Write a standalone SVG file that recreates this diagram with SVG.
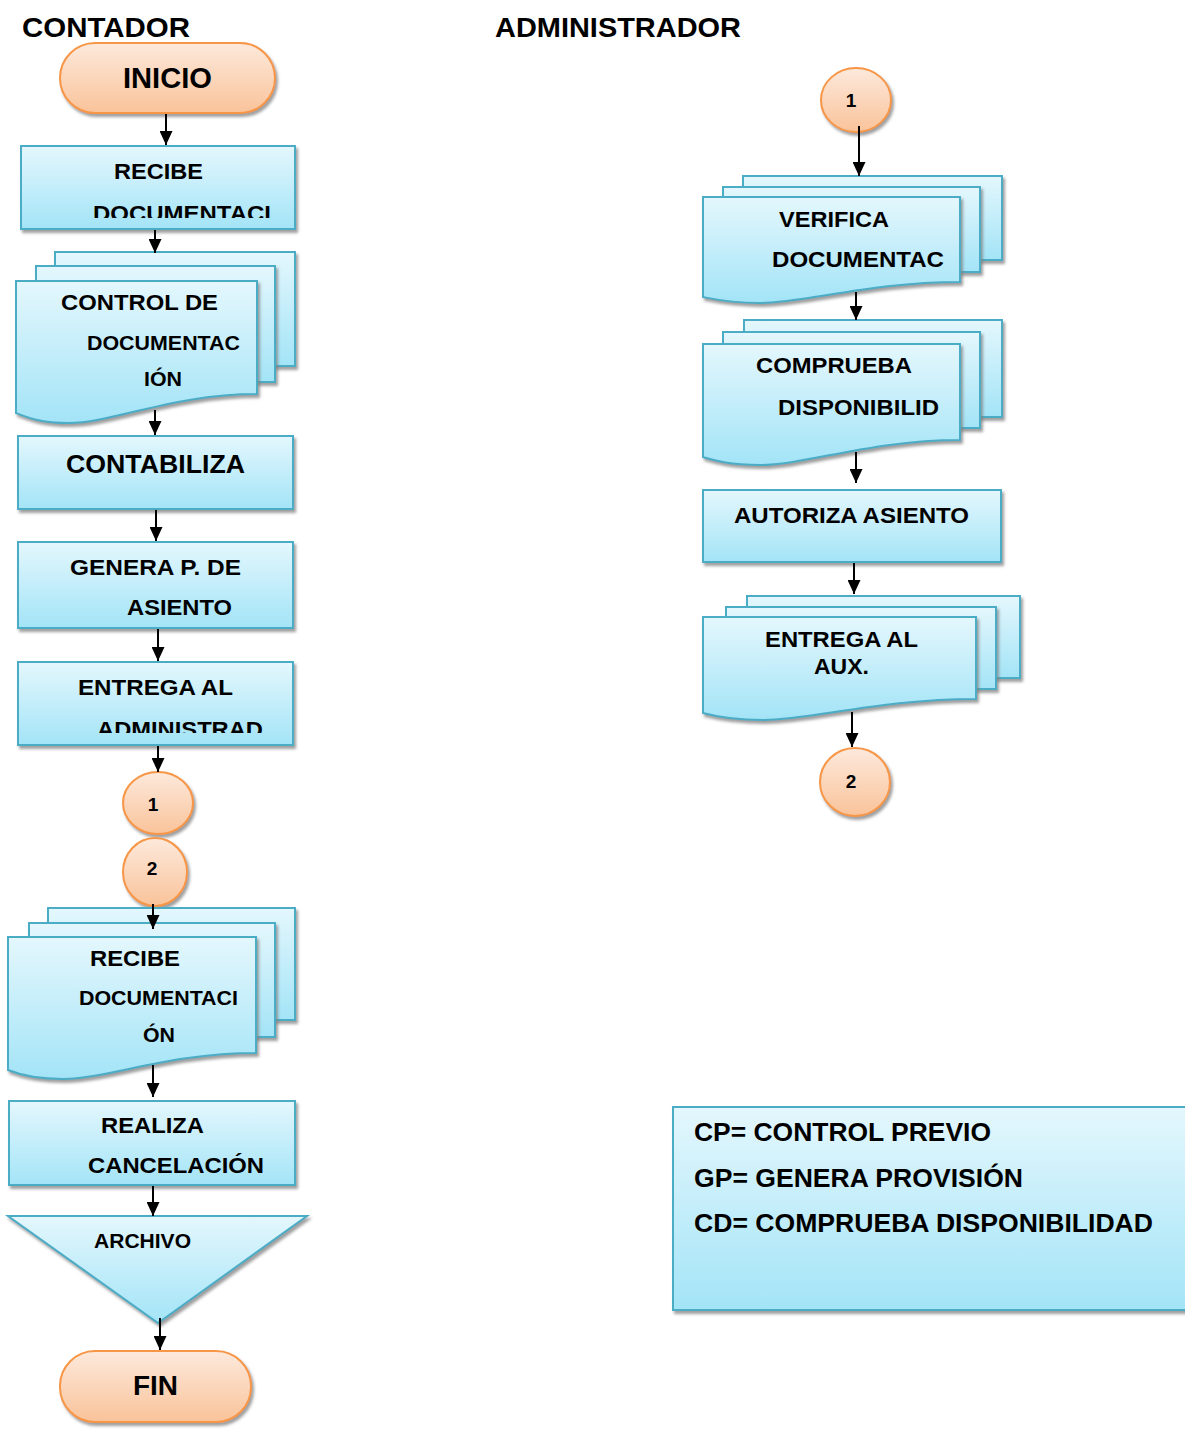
<svg xmlns="http://www.w3.org/2000/svg" width="1185" height="1432" viewBox="0 0 1185 1432">
<defs>
<style>
.t{font-family:"Liberation Sans",Arial,sans-serif;font-weight:bold;fill:#000}
.box{fill:url(#gb);stroke:#4bacc6;stroke-width:2;filter:url(#sh)}
.term{fill:url(#go);stroke:#f79646;stroke-width:2;filter:url(#sh)}
.con{stroke:#000;stroke-width:2;fill:none;marker-end:url(#ah)}
</style>
<linearGradient id="gb" x1="0" y1="0" x2="0" y2="1"><stop offset="0" stop-color="#e4f7fd"/><stop offset="1" stop-color="#a3e4f7"/></linearGradient>
<linearGradient id="go" x1="0" y1="0" x2="0" y2="1"><stop offset="0" stop-color="#fde9dc"/><stop offset="1" stop-color="#f9c39a"/></linearGradient>
<filter id="sh" x="-10%" y="-10%" width="125%" height="130%"><feDropShadow dx="2" dy="3" stdDeviation="1.5" flood-color="#7f7f7f" flood-opacity="0.75"/></filter>
<marker id="ah" markerWidth="14" markerHeight="13" refX="14" refY="6.5" orient="auto" markerUnits="userSpaceOnUse"><path d="M0,0 L14,6.5 L0,13 Z" fill="#000"/></marker>
<clipPath id="c1"><rect x="21" y="146" width="274" height="72"/></clipPath>
<clipPath id="c2"><rect x="18" y="662" width="275" height="71"/></clipPath>
</defs>
<rect width="1185" height="1432" fill="#fff"/>

<text class="t" x="22" y="37" font-size="28" textLength="168" lengthAdjust="spacingAndGlyphs">CONTADOR</text>
<text class="t" x="495" y="37" font-size="28" textLength="246" lengthAdjust="spacingAndGlyphs">ADMINISTRADOR</text>

<g id="inicio">
<rect class="term" x="60" y="43" width="215" height="70" rx="35"/>
<text class="t" x="123" y="88" font-size="29" textLength="89" lengthAdjust="spacingAndGlyphs">INICIO</text>
</g>

<g id="recibe1">
<rect class="box" x="21" y="146" width="274" height="83"/>
<text class="t" x="114" y="179" font-size="22" textLength="89" lengthAdjust="spacingAndGlyphs">RECIBE</text>
<text class="t" x="93" y="221" font-size="22" textLength="178" lengthAdjust="spacingAndGlyphs" clip-path="url(#c1)">DOCUMENTACI</text>
</g>

<g id="control">
<rect class="box" x="55" y="252" width="240" height="114"/>
<rect class="box" x="36" y="266" width="239" height="116"/>
<path class="box" d="M16,281 H257 V394 C173,394 112,423 69,423 C40,423 26,417 16,413 Z"/>
<text class="t" x="61" y="310" font-size="22" textLength="157" lengthAdjust="spacingAndGlyphs">CONTROL DE</text>
<text class="t" x="87" y="350" font-size="20" textLength="153" lengthAdjust="spacingAndGlyphs">DOCUMENTAC</text>
<text class="t" x="144" y="386" font-size="20" textLength="38" lengthAdjust="spacingAndGlyphs">IÓN</text>
</g>

<g id="contabiliza">
<rect class="box" x="18" y="436" width="275" height="73"/>
<text class="t" x="66" y="473" font-size="25" textLength="179" lengthAdjust="spacingAndGlyphs">CONTABILIZA</text>
</g>

<g id="genera">
<rect class="box" x="18" y="542" width="275" height="86"/>
<text class="t" x="70" y="575" font-size="22" textLength="171" lengthAdjust="spacingAndGlyphs">GENERA P. DE</text>
<text class="t" x="127" y="615" font-size="22" textLength="105" lengthAdjust="spacingAndGlyphs">ASIENTO</text>
</g>

<g id="entrega1">
<rect class="box" x="18" y="662" width="275" height="83"/>
<text class="t" x="78" y="695" font-size="22" textLength="155" lengthAdjust="spacingAndGlyphs">ENTREGA AL</text>
<text class="t" x="97" y="737" font-size="22" textLength="166" lengthAdjust="spacingAndGlyphs" clip-path="url(#c2)">ADMINISTRAD</text>
</g>

<g id="c1left">
<ellipse class="term" cx="158" cy="803" rx="35" ry="31"/>
<text class="t" x="153" y="811" font-size="19" text-anchor="middle">1</text>
</g>

<g id="c2left">
<ellipse class="term" cx="155" cy="872" rx="32" ry="34"/>
<text class="t" x="152" y="875" font-size="19" text-anchor="middle">2</text>
</g>

<g id="recibe2">
<rect class="box" x="48" y="908" width="247" height="112"/>
<rect class="box" x="29" y="923" width="246" height="114"/>
<path class="box" d="M8,937 H256 V1053 C169,1053 107,1079 63,1079 C33,1079 18,1074 8,1070 Z"/>
<text class="t" x="90" y="966" font-size="22" textLength="90" lengthAdjust="spacingAndGlyphs">RECIBE</text>
<text class="t" x="79" y="1005" font-size="21" textLength="159" lengthAdjust="spacingAndGlyphs">DOCUMENTACI</text>
<text class="t" x="143" y="1042" font-size="21" textLength="32" lengthAdjust="spacingAndGlyphs">ÓN</text>
</g>

<g id="realiza">
<rect class="box" x="9" y="1101" width="286" height="84"/>
<text class="t" x="101" y="1133" font-size="22" textLength="103" lengthAdjust="spacingAndGlyphs">REALIZA</text>
<text class="t" x="88" y="1173" font-size="22" textLength="176" lengthAdjust="spacingAndGlyphs">CANCELACIÓN</text>
</g>

<g id="archivo">
<path class="box" d="M8,1216 H307 L158,1323 Z"/>
<text class="t" x="94" y="1248" font-size="20" textLength="97" lengthAdjust="spacingAndGlyphs">ARCHIVO</text>
</g>

<g id="fin">
<rect class="term" x="60" y="1351" width="191" height="71" rx="35"/>
<text class="t" x="133" y="1395" font-size="28" textLength="45" lengthAdjust="spacingAndGlyphs">FIN</text>
</g>

<g id="c1right">
<ellipse class="term" cx="856" cy="100" rx="35" ry="32"/>
<text class="t" x="851" y="107" font-size="19" text-anchor="middle">1</text>
</g>

<g id="verifica">
<rect class="box" x="743" y="176" width="259" height="84"/>
<rect class="box" x="723" y="187" width="257" height="85"/>
<path class="box" d="M703,197 H960 V282 C870,282 806,303 760,303 C729,303 713,299 703,297 Z"/>
<text class="t" x="779" y="227" font-size="22" textLength="110" lengthAdjust="spacingAndGlyphs">VERIFICA</text>
<text class="t" x="772" y="267" font-size="22" textLength="172" lengthAdjust="spacingAndGlyphs">DOCUMENTAC</text>
</g>

<g id="comprueba">
<rect class="box" x="744" y="320" width="258" height="97"/>
<rect class="box" x="723" y="332" width="257" height="96"/>
<path class="box" d="M703,344 H960 V440 C870,440 806,465 760,465 C729,465 713,460 703,457 Z"/>
<text class="t" x="756" y="373" font-size="22" textLength="156" lengthAdjust="spacingAndGlyphs">COMPRUEBA</text>
<text class="t" x="778" y="415" font-size="22" textLength="161" lengthAdjust="spacingAndGlyphs">DISPONIBILID</text>
</g>

<g id="autoriza">
<rect class="box" x="703" y="490" width="298" height="72"/>
<text class="t" x="734" y="523" font-size="22" textLength="235" lengthAdjust="spacingAndGlyphs">AUTORIZA ASIENTO</text>
</g>

<g id="entrega2">
<rect class="box" x="747" y="596" width="273" height="82"/>
<rect class="box" x="726" y="607" width="270" height="82"/>
<path class="box" d="M703,617 H976 V699 C880,699 812,720 763,720 C730,720 714,716 703,713 Z"/>
<text class="t" x="765" y="647" font-size="22" textLength="153" lengthAdjust="spacingAndGlyphs">ENTREGA AL</text>
<text class="t" x="814" y="674" font-size="22" textLength="55" lengthAdjust="spacingAndGlyphs">AUX.</text>
</g>

<g id="c2right">
<ellipse class="term" cx="855" cy="782" rx="35" ry="34"/>
<text class="t" x="851" y="788" font-size="19" text-anchor="middle">2</text>
</g>

<g id="legend">
<rect class="box" x="673" y="1107" width="520" height="203"/>
<text class="t" x="694" y="1141" font-size="25" textLength="297" lengthAdjust="spacingAndGlyphs">CP= CONTROL PREVIO</text>
<text class="t" x="694" y="1187" font-size="25" textLength="329" lengthAdjust="spacingAndGlyphs">GP= GENERA PROVISIÓN</text>
<text class="t" x="694" y="1232" font-size="25" textLength="459" lengthAdjust="spacingAndGlyphs">CD= COMPRUEBA DISPONIBILIDAD</text>
</g>

<g id="connectors">
<line class="con" x1="166" y1="114" x2="166" y2="145"/>
<line class="con" x1="155" y1="230" x2="155" y2="253"/>
<line class="con" x1="155" y1="410" x2="155" y2="435"/>
<line class="con" x1="156" y1="510" x2="156" y2="541"/>
<line class="con" x1="158" y1="629" x2="158" y2="661"/>
<line class="con" x1="158" y1="746" x2="158" y2="772"/>
<line class="con" x1="153" y1="904" x2="153" y2="929"/>
<line class="con" x1="153" y1="1065" x2="153" y2="1097"/>
<line class="con" x1="153" y1="1186" x2="153" y2="1216"/>
<line class="con" x1="160" y1="1318" x2="160" y2="1350"/>
<line class="con" x1="859" y1="126" x2="859" y2="176"/>
<line class="con" x1="856" y1="292" x2="856" y2="320"/>
<line class="con" x1="856" y1="452" x2="856" y2="483"/>
<line class="con" x1="854" y1="563" x2="854" y2="594"/>
<line class="con" x1="852" y1="712" x2="852" y2="747"/>
</g>
</svg>
